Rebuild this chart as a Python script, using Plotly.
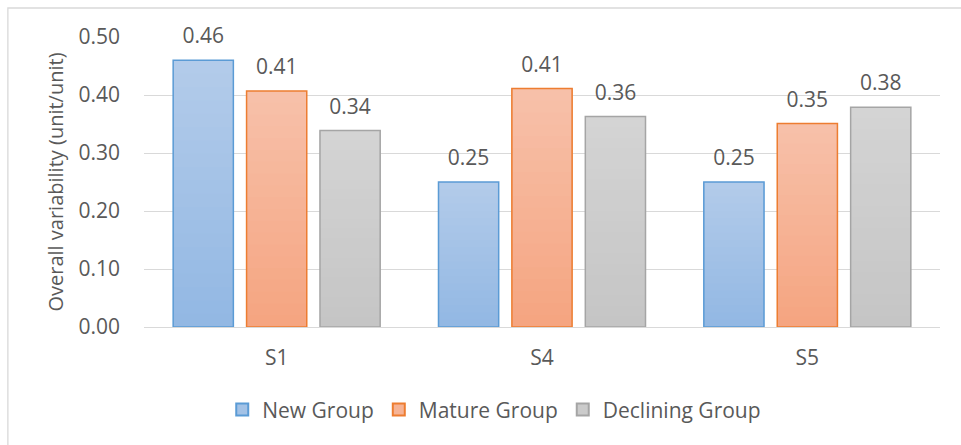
import plotly.graph_objects as go

# Chart data
categories = ["S1", "S4", "S5"]
series_names = ["New Group", "Mature Group", "Declining Group"]
new_group = [0.46, 0.25, 0.25]
mature_group = [0.407, 0.411, 0.351]
declining_group = [0.339, 0.363, 0.379]
y_ticks = [0.0, 0.1, 0.2, 0.3, 0.4, 0.5]

series_values = [new_group, mature_group, declining_group]

# Styling: outline colour, gradient top colour, gradient bottom colour
outline_colors = ["#5b9bd5", "#ed7d31", "#a5a5a5"]
top_colors = [(179, 204, 234), (247, 193, 170), (212, 212, 212)]
bottom_colors = [(146, 183, 227), (245, 164, 128), (197, 197, 197)]
mid_colors = ["#a3c2e6", "#f6b395", "#cbcbcb"]

TEXT_COLOR = "#595959"
GRID_COLOR = "#d9d9d9"
FONT = "Open Sans"
FS = 21
N_STEPS = 20

fig = go.Figure()

# Legend swatches (no data drawn)
for name, oc, mc in zip(series_names, outline_colors, mid_colors):
    fig.add_trace(go.Bar(
        x=categories, y=[None] * len(categories), name=name,
        offsetgroup=name,
        marker=dict(color=mc, line=dict(color=oc, width=1.5)),
        hoverinfo="skip",
    ))

# Vertical gradient fill: overlapping slices, each running from a fraction of
# the bar's own value up to its top, later (lighter) slices drawn over earlier ones
for name, vals, tc, bc in zip(series_names, series_values, top_colors, bottom_colors):
    for k in range(N_STEPS):
        t = (k + 0.5) / N_STEPS
        rgb = tuple(round(bc[i] + (tc[i] - bc[i]) * t) for i in range(3))
        fig.add_trace(go.Bar(
            x=categories,
            y=[v * (N_STEPS - k) / N_STEPS for v in vals],
            base=[v * k / N_STEPS for v in vals],
            offsetgroup=name,
            marker=dict(color="rgb(%d,%d,%d)" % rgb, line=dict(width=0)),
            showlegend=False,
            hoverinfo="skip",
        ))

# Outlines on top of the gradient
for name, vals, oc in zip(series_names, series_values, outline_colors):
    fig.add_trace(go.Bar(
        x=categories, y=vals, offsetgroup=name,
        marker=dict(color="rgba(0,0,0,0)", line=dict(color=oc, width=1.5)),
        showlegend=False,
        hovertemplate=name + " %{x}: %{y:.2f}<extra></extra>",
    ))

# Value labels above each bar
for name, vals in zip(series_names, series_values):
    fig.add_trace(go.Scatter(
        x=categories, y=vals, offsetgroup=name,
        mode="markers+text",
        marker=dict(size=17, color="rgba(0,0,0,0)"),
        text=["%.2f" % v for v in vals],
        textposition="top center",
        textfont=dict(family=FONT, size=FS, color=TEXT_COLOR),
        showlegend=False, hoverinfo="skip", cliponaxis=False,
    ))

fig.update_layout(
    width=961, height=445,
    margin=dict(l=144, r=21, t=37, b=118, autoexpand=False),
    paper_bgcolor="white", plot_bgcolor="white",
    barmode="group", bargap=0.17, bargroupgap=0.18,
    scattermode="group", scattergap=0.17,
    font=dict(family=FONT, size=FS, color=TEXT_COLOR),
    showlegend=True,
    legend=dict(
        orientation="h", x=0.44, xanchor="center", y=-0.286, yanchor="middle",
        font=dict(family=FONT, size=FS, color=TEXT_COLOR),
        bgcolor="rgba(0,0,0,0)",
        traceorder="normal", itemsizing="constant",
    ),
    xaxis=dict(
        showgrid=False, zeroline=False, showline=False,
        ticks="", tickfont=dict(family=FONT, size=FS, color=TEXT_COLOR),
        ticklabelstandoff=16,
    ),
    yaxis=dict(
        range=[0, 0.5], tickvals=y_ticks, tickformat=".2f",
        showgrid=True, gridcolor=GRID_COLOR, gridwidth=1.3,
        zeroline=True, zerolinecolor=GRID_COLOR, zerolinewidth=1.3,
        showline=False, ticks="",
        tickfont=dict(family=FONT, size=FS, color=TEXT_COLOR),
        ticklabelstandoff=23,
        title=dict(text="Overall variability (unit/unit)",
                   font=dict(family=FONT, size=20, color=TEXT_COLOR),
                   standoff=9),
    ),
    shapes=[dict(
        type="rect", xref="paper", yref="paper",
        x0=-0.171, x1=1.03, y0=-0.42, y1=1.10,
        line=dict(color="#d9d9d9", width=1.3), fillcolor="rgba(0,0,0,0)",
        layer="below",
    )],
)

fig.write_html("out.html")
